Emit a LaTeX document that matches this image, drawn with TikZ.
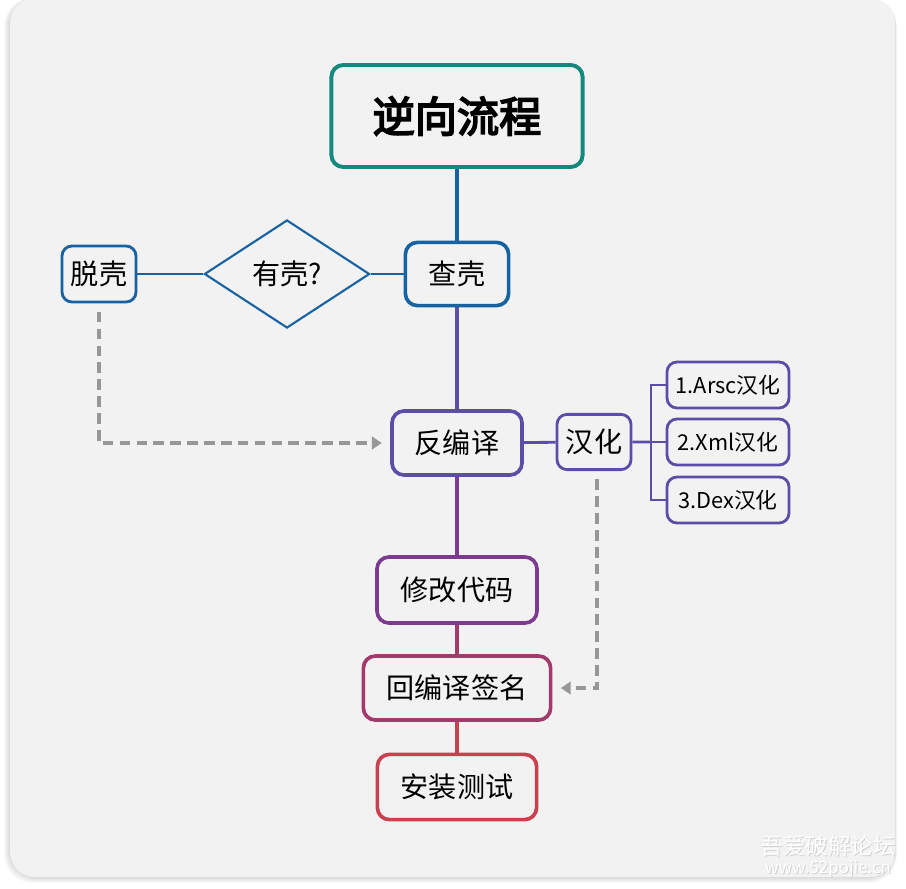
\documentclass[tikz,border=0pt]{standalone}
\usepackage{fontspec}
\setmainfont{Noto Sans CJK SC}
\newfontfamily\titlefont{Noto Sans CJK SC}[FakeBold=4]
\usetikzlibrary{shapes.geometric,arrows.meta}

\definecolor{flowteal}{HTML}{15897E}
\definecolor{flowblue}{HTML}{1763A2}
\definecolor{flowpurple}{HTML}{5A4EA6}
\definecolor{flowplum}{HTML}{7C3B8E}
\definecolor{flowrose}{HTML}{A23A6C}
\definecolor{flowred}{HTML}{C9404F}
\definecolor{panelgray}{HTML}{F2F2F2}
\definecolor{dashgray}{HTML}{979797}

\tikzset{
  stepbox/.style={draw=#1, text=black, rounded corners=0.3cm, line width=2.6pt,
    inner sep=0pt, font=\fontsize{20}{24}\selectfont},
  subbox/.style={stepbox=#1, line width=2pt, rounded corners=0.25cm,
    font=\fontsize{15.5}{18}\selectfont, minimum width=3.05cm, minimum height=1.15cm},
  trunk/.style={line width=2.6pt},
  branch/.style={line width=2pt},
  backarrow/.style={dashgray, line width=2.3pt, dash pattern=on 7.5pt off 4.5pt,
    -{Triangle[width=9pt,length=7pt]}, shorten <=6pt, shorten >=6pt},
}

\begin{document}
\begin{tikzpicture}[x=0.025cm, y=-0.025cm]

    % Page and panel
    \useasboundingbox (0,0) rectangle (906,888);
    \fill[white] (0,0) rectangle (906,888);
    \foreach \s in {1,...,6}
        \fill[black, opacity=0.025, rounded corners=0.7cm]
            (10-\s,-2) rectangle (895+0.3*\s,877+\s);
    \fill[panelgray, rounded corners=0.625cm] (10,-2) rectangle (895,877);

    % Title
    \node[stepbox=flowteal, line width=2.8pt, minimum width=6.28cm, minimum height=2.55cm,
          font=\fontsize{30}{36}\titlefont] (title) at (457,116) {逆向流程};

    % Shell check row
    \node[stepbox=flowblue, minimum width=2.58cm, minimum height=1.58cm] (chake) at (457,274) {查壳};
    \node[draw=flowblue, shape=diamond, line width=1.5pt, minimum width=4.13cm, minimum height=2.7cm,
          inner sep=0pt, font=\fontsize{20}{24}\selectfont] (youke) at (287,274) {有壳?};
    \node[stepbox=flowblue, line width=2pt, rounded corners=0.25cm,
          minimum width=1.85cm, minimum height=1.4cm] (tuoke) at (99,274) {脱壳};

    % Decompile and localisation
    \node[stepbox=flowpurple, minimum width=3.25cm, minimum height=1.6cm] (fanbianyi) at (457,443) {反编译};
    \node[stepbox=flowpurple, line width=2pt, rounded corners=0.25cm,
          minimum width=1.85cm, minimum height=1.38cm] (hanhua) at (594,442) {汉化};
    \node[subbox=flowpurple] (arsc) at (728,385) {1.Arsc汉化};
    \node[subbox=flowpurple] (xml)  at (728,442) {2.Xml汉化};
    \node[subbox=flowpurple] (dex)  at (728,500) {3.Dex汉化};
    \coordinate (fork) at (651,442);

    % Remaining steps
    \node[stepbox=flowplum, minimum width=4.0cm, minimum height=1.65cm] (xiugai) at (457,590) {修改代码};
    \node[stepbox=flowrose, minimum width=4.68cm, minimum height=1.6cm] (huibianyi) at (457,688) {回编译签名};
    \node[stepbox=flowred, minimum width=3.98cm, minimum height=1.63cm] (anzhuang) at (457,787) {安装测试};

    % Trunk
    \draw[trunk, flowblue] (title) -- (chake);
    \draw[trunk, flowpurple] (chake) -- (fanbianyi);
    \draw[trunk, flowplum] (fanbianyi) -- (xiugai);
    \draw[trunk, flowrose] (xiugai) -- (huibianyi);
    \draw[trunk, flowred] (huibianyi) -- (anzhuang);

    % Side branches
    \draw[branch, flowblue] (tuoke) -- (youke) -- (chake);
    \draw[branch, flowpurple] (fanbianyi) -- (hanhua) -- (fork);
    \draw[branch, flowpurple] (fork) |- (arsc);
    \draw[branch, flowpurple] (fork) -- (xml);
    \draw[branch, flowpurple] (fork) |- (dex);

    % Dashed returns
    \draw[backarrow] (tuoke) |- (fanbianyi);
    \draw[backarrow] ([xshift=3*0.025cm]hanhua.south) |- (huibianyi);

    % Watermark
    \node[gray!35, font=\fontsize{16}{18}\selectfont] (wmarkshadow) at (829,847) {吾爱破解论坛};
    \node[white, font=\fontsize{16}{18}\selectfont] (wmark) at (828,846) {吾爱破解论坛};
    \node[gray!35, font=\fontsize{12}{14}\selectfont] (wsiteshadow) at (829,870) {www.52pojie.cn};
    \node[white, font=\fontsize{12}{14}\selectfont] (wsite) at (828,869) {www.52pojie.cn};

\end{tikzpicture}
\end{document}
